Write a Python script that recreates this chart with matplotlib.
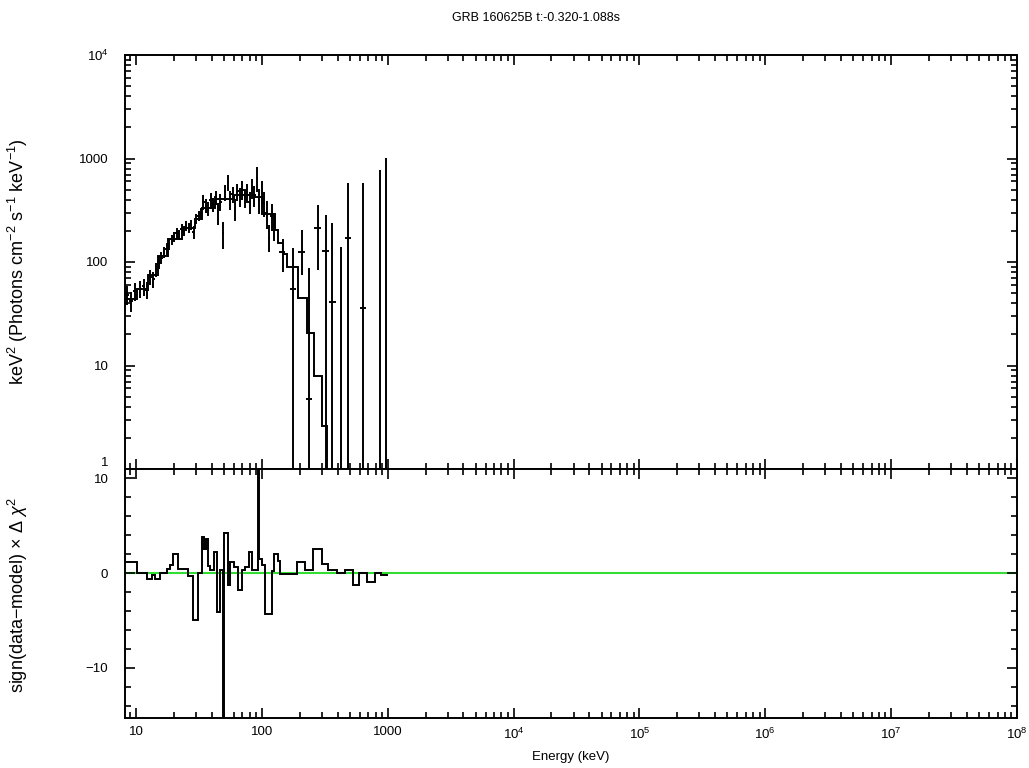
import numpy as np
import matplotlib
matplotlib.use("Agg")
import matplotlib.pyplot as plt
from matplotlib.ticker import LogLocator, FixedLocator, NullFormatter

plt.rcParams['font.family'] = ['Liberation Sans', 'DejaVu Sans']
plt.rcParams['mathtext.fontset'] = 'custom'
plt.rcParams['mathtext.rm'] = 'Liberation Sans'
plt.rcParams['mathtext.it'] = 'Liberation Sans:italic'
plt.rcParams['mathtext.default'] = 'regular'

title = "GRB 160625B t:-0.320-1.088s"

# ---- data points (spectrum, keV^2 N(E)) ----
data_E = [8.5, 9.2, 9.9, 10.7, 11.5, 12.3, 13.0, 13.7, 14.4, 15.2, 15.9, 16.7, 17.5, 18.3,
          19.2, 20.1, 21.0, 22.0, 23.0, 24.0, 25.1, 26.3, 27.5, 28.7, 30.0, 31.4, 32.8,
          34.3, 35.9, 37.5, 39.2, 41.0, 42.9, 44.8, 46.9, 49.0, 51.2, 53.6, 56.0, 58.6,
          61.2, 64.0, 66.9, 70.0, 73.2, 76.5, 80.0, 83.6, 87.4, 91.4, 95.5, 99.9, 104.4,
          109.2, 114.2, 119.4, 124.8,
          146, 177, 207, 238, 277, 323, 363, 423, 485, 638, 867, 962]
data_F = [48, 42, 52, 55, 58, 54, 72, 68, 85, 100, 110, 125, 135, 150,
          165, 175, 190, 185, 210, 200, 225, 215, 230, 195, 260, 280, 300,
          380, 350, 330, 400, 360, 420, 300, 380, 190, 470, 590, 400, 450,
          330, 480, 430, 500, 420, 470, 380, 520, 440, 650, 400, 480, 370,
          300, 170, 280, 230,
          125, 55, 125, 4.7, 214, 128, 41, 0.5, 170, 36, 0.5, 0.5]
data_lo = [10, 9, 10, 10, 11, 10, 12, 12, 13, 15, 15, 16, 17, 18,
           19, 20, 21, 21, 22, 22, 24, 24, 25, 30, 28, 30, 32,
           60, 55, 50, 60, 55, 65, 70, 70, 55, 80, 110, 80, 80,
           80, 90, 90, 100, 90, 100, 90, 110, 100, 180, 110, 120, 100,
           90, 45, 80, 70,
           45, 55, 50, 4.5, 130, 128, 41, 0.5, 170, 36, 0.5, 0.5]
data_hi = [10, 9, 10, 10, 11, 10, 12, 12, 13, 15, 15, 16, 17, 18,
           19, 20, 21, 21, 22, 22, 24, 24, 25, 30, 28, 30, 32,
           60, 55, 50, 60, 55, 65, 70, 70, 55, 80, 110, 80, 80,
           80, 90, 90, 100, 90, 100, 90, 110, 100, 180, 110, 120, 100,
           90, 60, 80, 70,
           40, 82, 79, 83, 141, 157, 197, 140, 410, 544, 775, 1000]
data_wlo = [0.3, 0.35, 0.35, 0.4, 0.4, 0.4, 0.35, 0.35, 0.35, 0.4, 0.35, 0.4, 0.4, 0.4,
            0.45, 0.45, 0.45, 0.5, 0.5, 0.5, 0.55, 0.6, 0.6, 0.6, 0.65, 0.7, 0.7,
            0.75, 0.8, 0.8, 0.85, 0.9, 0.95, 0.95, 1.05, 1.05, 1.1, 1.2, 1.2, 1.3,
            1.3, 1.4, 1.45, 1.55, 1.6, 1.65, 1.75, 1.8, 1.9, 2.0, 2.05, 2.2, 2.25,
            2.4, 2.5, 2.6, 2.7,
            8, 10, 12, 14, 18, 20, 22, 27, 30, 40, 45, 20]
data_whi = data_wlo

# ---- folded model (step histogram) ----
model_edges = [8.18, 10.1, 12.5, 14.9, 17.9, 23.2, 29.4, 33.4, 42.4, 60, 88, 100, 127,
               134, 147, 158, 194, 228, 259, 298, 330, 360, 1000]
model_vals = [44, 55, 75, 115, 165, 215, 260, 330, 410, 440, 420, 290, 205, 152, 120,
              90, 45, 20.6, 7.9, 2.6, 0.9, 0.2]

# ---- residuals sign(data-model) x delta chi^2 ----
res_edges = [8.18, 10.13, 12.17, 13.33, 14.16, 15.51, 17.53, 18.62, 19.79, 21.68, 26.03,
             28.52, 31.24, 33.62, 34.7, 35.78, 37.32, 38.71, 41.88, 43.75, 46.47, 49.2,
             50.4, 53.5, 55.8, 60.37, 64.24, 69.88, 73.41, 78.98, 83.89, 93.4, 94.4, 99.6,
             105.8, 119.6, 125.5, 133.5, 139.3, 189.0, 219.9, 256.1, 298.5, 336.9, 397.2,
             457.1, 526.3, 593.8, 679.9, 791.3, 878.3, 1009]
res_vals = [1.2, 0, -0.6, -0.2, -0.6, 0, 0.4, 0.9, 2.0, 0.4, -0.3, -5.0, 0, 3.8, 2.5,
            3.6, 0.8, 0.3, 2.2, -4.1, 0.3, -16, 4.2, -1.2, 1.2, 0.6, -1.8, 0.3, 0.6, 2.2,
            0.3, 12, 1.5, 0.9, -4.3, 0.2, 2.0, 1.3, -0.1, 1.2, 0.3, 2.6, 1.0, 0.3, 0, 0.3,
            -1.3, 0, -0.9, 0, -0.2]

xticks = [10, 100, 1000, 1e4, 1e5, 1e6, 1e7, 1e8]
xticklabels = ["10", "100", "1000", "10$^{4}$", "10$^{5}$", "10$^{6}$", "10$^{7}$", "10$^{8}$"]
yticks = [1, 10, 100, 1000, 1e4]
yticklabels = ["1", "10", "100", "1000", "10$^{4}$"]
rticks = [-10, 0, 10]
rticklabels = ["\u221210", "0", "10"]

W, H = 1029, 768
fig = plt.figure(figsize=(W / 100, H / 100), dpi=100)
L, R, T, M, B = 125, 1017, 55, 469, 718
ax1 = fig.add_axes([L / W, 1 - M / H, (R - L) / W, (M - T) / H])
ax2 = fig.add_axes([L / W, 1 - B / H, (R - L) / W, (B - M) / H], sharex=ax1)

lw = 1.4
fs = 9.5

# spectrum
ax1.stairs(model_vals, model_edges, color='black', lw=lw, baseline=None)
xe = [np.array(data_wlo), np.array(data_whi)]
ye = [np.array(data_lo), np.array(data_hi)]
ax1.errorbar(data_E, data_F, xerr=xe, yerr=ye, fmt='none', ecolor='black',
             elinewidth=lw, capsize=0)
ax1.set_xscale('log')
ax1.set_yscale('log')
ax1.set_xlim(8.18, 1e8)
ax1.set_ylim(1, 1e4)
ax1.yaxis.set_major_locator(FixedLocator(yticks))
ax1.set_yticklabels(yticklabels)
ax1.yaxis.set_minor_locator(LogLocator(base=10, subs=np.arange(2, 10), numticks=20))
ax1.yaxis.set_minor_formatter(NullFormatter())
ax1.tick_params(axis='x', labelbottom=False)

# residuals
ax2.axhline(0, color='#33dd33', lw=1.5, zorder=1)
ax2.stairs(res_vals, res_edges, color='black', lw=lw, baseline=None, zorder=2)
ax2.set_ylim(-15.3, 11)
ax2.yaxis.set_major_locator(FixedLocator(rticks))
ax2.set_yticklabels(rticklabels)
ax2.yaxis.set_minor_locator(FixedLocator(np.arange(-14, 11, 2)))
ax2.xaxis.set_major_locator(FixedLocator(xticks))
ax2.set_xticklabels(xticklabels)
ax2.xaxis.set_minor_locator(LogLocator(base=10, subs=np.arange(2, 10), numticks=20))
ax2.xaxis.set_minor_formatter(NullFormatter())

for ax in (ax1, ax2):
    for s in ax.spines.values():
        s.set_linewidth(1.4)
    ax.tick_params(which='both', direction='in', top=True, right=True, width=1.2,
                   labelsize=fs, colors='black')
    ax.tick_params(which='major', length=7)
    ax.tick_params(which='minor', length=4)
    ax.tick_params(axis='y', pad=12)
    ax.tick_params(axis='x', pad=6)

# keep the "1" of the upper panel just above the panel boundary
fig.canvas.draw()
ax1.get_yticklabels()[0].set_va('bottom')

fig.text(536 / W, 1 - 18 / H, title, ha='center', va='center', fontsize=9)
fig.text(571 / W, 1 - 757 / H, "Energy (keV)", ha='center', va='center', fontsize=fs)
fig.text(18 / W, 1 - 262 / H,
         "keV$^{2}$ (Photons cm$^{-2}$ s$^{-1}$ keV$^{-1}$)",
         rotation=90, ha='center', va='center', fontsize=13)
fig.text(18 / W, 1 - 595 / H,
         "sign(data\u2212model) \u00d7 \u0394 $\\mathit{\u03c7}^{2}$",
         rotation=90, ha='center', va='center', fontsize=13)

fig.savefig("out.png", dpi=100)
